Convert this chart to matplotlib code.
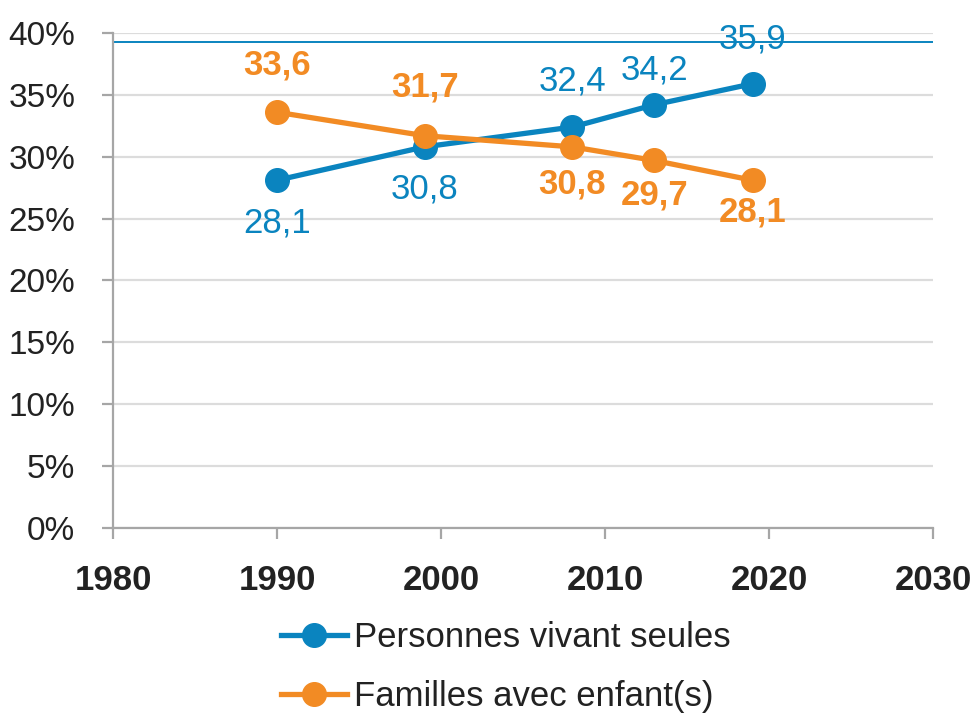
import matplotlib.pyplot as plt
from matplotlib.ticker import FuncFormatter

plt.rcParams['font.family'] = ['Liberation Sans', 'DejaVu Sans']

years_seules = [1990, 1999, 2008, 2013, 2019]
seules = [28.1, 30.8, 32.4, 34.2, 35.9]
years_familles = [1990, 1999, 2008, 2013, 2019]
familles = [33.6, 31.7, 30.8, 29.7, 28.1]

blue = '#0A84BF'
orange = '#F28B24'
grey = '#A6A6A6'

# label offsets in points (positive = above the point)
off_seules = [-31, -30, 33, 25, 32]
off_familles = [34, 35, -27, -25, -23]

fig = plt.figure(figsize=(9.73, 7.16), dpi=100)
ax = fig.add_axes([0.1161, 0.2626, 0.8428, 0.6913])

ax.plot(years_seules, seules, color=blue, lw=3.8, marker='o', ms=17,
        label='Personnes vivant seules', zorder=3)
ax.plot(years_familles, familles, color=orange, lw=3.8, marker='o', ms=17,
        label='Familles avec enfant(s)', zorder=3)

for x, y, o in zip(years_seules, seules, off_seules):
    ax.annotate(f'{y:.1f}'.replace('.', ','), (x, y), xytext=(0, o),
                textcoords='offset points', ha='center', va='center',
                color=blue, fontsize=25, zorder=4)
for x, y, o in zip(years_familles, familles, off_familles):
    ax.annotate(f'{y:.1f}'.replace('.', ','), (x, y), xytext=(0, o),
                textcoords='offset points', ha='center', va='center',
                color=orange, fontsize=25, fontweight='bold', zorder=4)

ax.axhline(39.28, color=blue, lw=1.4, zorder=2)

ax.set_xlim(1980, 2030)
ax.set_ylim(0, 40)
ax.set_xticks(range(1980, 2031, 10))
ax.set_yticks(range(0, 41, 5))
ax.yaxis.set_major_formatter(FuncFormatter(lambda v, _: f'{int(v)}%'))
ax.grid(axis='y', color='#DCDCDC', lw=1.6, zorder=1)
ax.set_axisbelow(True)

for s in ['top', 'right']:
    ax.spines[s].set_visible(False)
for s in ['left', 'bottom']:
    ax.spines[s].set_color(grey)
    ax.spines[s].set_linewidth(1.6)
ax.tick_params(axis='both', color=grey, width=1.6, length=8)
ax.tick_params(axis='y', labelsize=24, labelcolor='#222222', pad=19)
ax.tick_params(axis='x', labelsize=25, labelcolor='#222222', pad=18)
for t in ax.get_xticklabels():
    t.set_fontweight('bold')

fig.legend(loc='lower center', bbox_to_anchor=(0.52, -0.04), frameon=False,
           fontsize=25, handlelength=1.9, handletextpad=0.2, labelspacing=0.75,
           labelcolor='#222222')

fig.savefig('out.png', dpi=100)
